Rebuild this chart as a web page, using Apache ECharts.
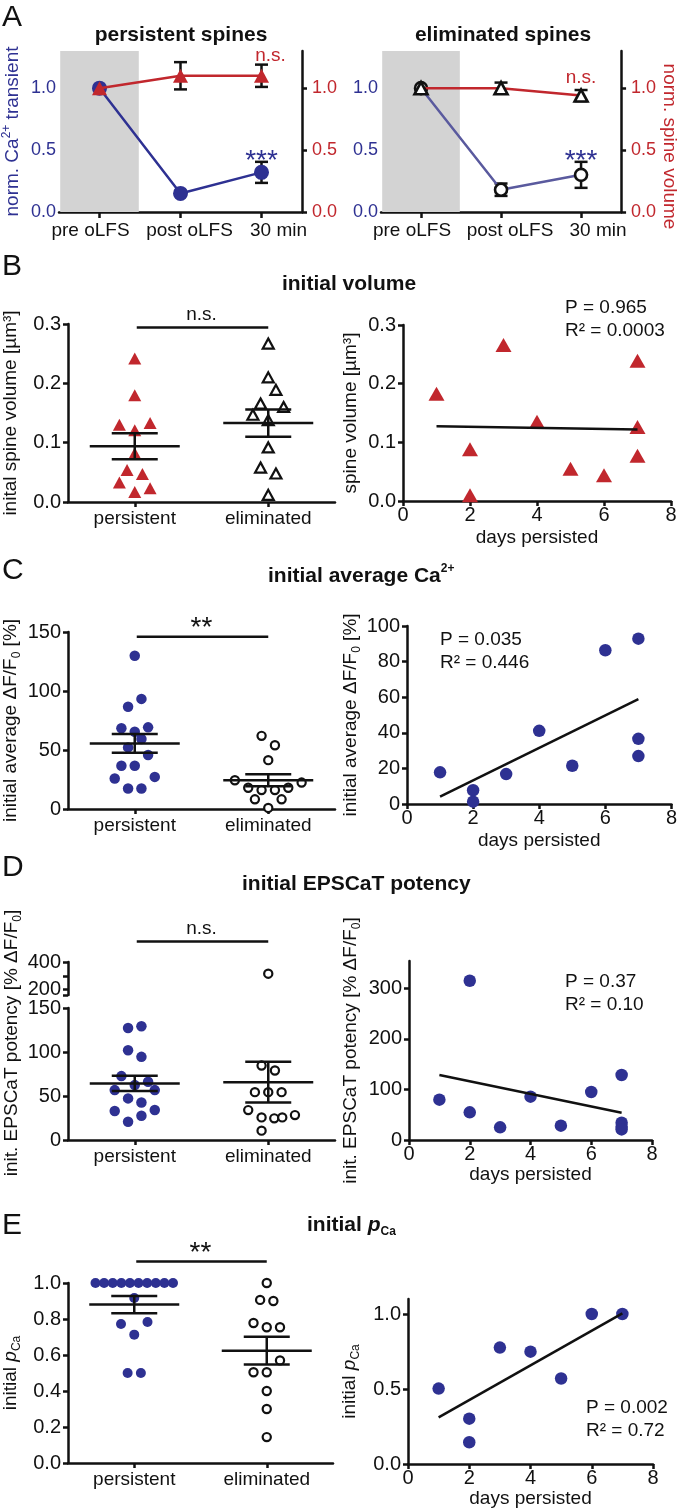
<!DOCTYPE html>
<html><head><meta charset="utf-8">
<script src="https://cdn.jsdelivr.net/npm/echarts@6/dist/echarts.min.js"></script>
<style>html,body{margin:0;padding:0;background:#fff}#c{width:680px;height:1511px}</style>
</head><body><div id="c"></div><script>
// ================= DATA =================
// Panel A
const timeCats = ['pre oLFS', 'post oLFS', '30 min'];
const aTicks = [0, 0.5, 1.0];
const persCaMean = [1.0, 0.15, 0.32];
const persCaSem = [0, 0.02, 0.085];
const persVolMean = [1.0, 1.10, 1.10];
const persVolSem = [0, 0.11, 0.09];
const elimCaMean = [1.0, 0.18, 0.30];
const elimCaSem = [0, 0.05, 0.105];
const elimVolMean = [1.0, 1.0, 0.94];
const elimVolSem = [0, 0.045, 0.045];
const persSigText = ['n.s.', '***'];
const persSigY = [1.242, 0.46];
const elimSigText = ['n.s.', '***'];
const elimSigY = [1.065, 0.46];

// Groups for B-E left panels
const groups = ['persistent', 'eliminated'];
const daysTicks = [0, 2, 4, 6, 8];

// Panel B
const volPers = [0.242, 0.18, 0.13, 0.133, 0.121, 0.082, 0.054, 0.047, 0.033, 0.023, 0.017];
const volPersSlot = [0, 0, -2, 2, 0, 0, -1, 1, -2, 2, 0];
const volElim = [0.267, 0.21, 0.189, 0.166, 0.16, 0.147, 0.138, 0.092, 0.058, 0.048, 0.012];
const volElimSlot = [0, 0, 1, -1, 2, -2, 0, 0, -1, 1, 0];
const volMean = [0.094, 0.133];
const volSem = [0.022, 0.023];
const volSig = 'n.s.';
const volSigY = 0.294;
const volDays = [1, 2, 2, 3, 4, 5, 6, 7, 7, 7];
const volByDays = [0.183, 0.088, 0.010, 0.266, 0.135, 0.055, 0.044, 0.239, 0.126, 0.077];
const volFitX = [1, 7];
const volFitY = [0.1275, 0.1218];
const volStat = ['P = 0.965', 'R² = 0.0003'];

// Panel C
const caPers = [129.8, 93.3, 86.7, 68.4, 69.2, 65.5, 59.3, 52.2, 45.7, 36.6, 36.6, 25.8, 27.2, 17.3, 17.3];
const caPersSlot = [0, 1, -1, -2, 2, 0, 1, -1, 2, -2, 0, -3, 3, -1, 1];
const caElim = [62, 54, 41.4, 24.4, 22.4, 18, 16, 16, 18, 8.2, 8.2, 0.9];
const caElimSlot = [-1, 1, 0, -5, 5, -3, -1, 1, 3, -2, 2, 0];
const caMean = [55.6, 24.4];
const caSem = [8.0, 5.1];
const caSig = '**';
const caSigY = 146;
const caDays = [1, 2, 2, 3, 4, 5, 6, 7, 7, 7];
const caByDays = [17.8, 7.7, 1.3, 16.8, 41.1, 21.5, 86.4, 92.9, 36.6, 26.9];
const caFitX = [1, 7];
const caFitY = [4.1, 58.9];
const caStat = ['P = 0.035', 'R² = 0.446'];

// Panel D
const potPers = [127.3, 129.2, 102, 94.5, 72.6, 66.1, 62.4, 56.7, 56.7, 47.3, 42.7, 32.9, 34, 27.6, 20.8];
const potPersSlot = [-1, 1, -1, 1, -2, 2, 0, -3, 3, -1, 1, -3, 3, 1, -1];
const potElim = [315, 84.6, 79, 54.4, 54.4, 54.4, 34, 25.7, 24.6, 25.7, 28.3, 10.6];
const potElimSlot = [0, -1, 1, -2, 0, 2, -3, -1, 0.9, 2.1, 4, -1];
const potMean = [64.3, 65.7];
const potSem = [8.6, 23.2];
const potSig = 'n.s.';
const potSigY = 550;
const potLowTicks = [0, 50, 100, 150];
const potHighTicks = [160, 200, 300, 400];
const potHighLabels = [200, 400];
const potDays = [1, 2, 2, 3, 4, 5, 6, 7, 7, 7, 7];
const potByDays = [79.8, 315, 54.7, 25, 85.7, 28.3, 95, 128.5, 34.3, 26.4, 21];
const potFitX = [1, 7];
const potFitY = [128.5, 54];
const potStat = ['P = 0.37', 'R² = 0.10'];

// Panel E
const pcaPers = [1, 1, 1, 1, 1, 1, 1, 1, 1, 1, 0.917, 0.772, 0.783, 0.713, 0.5, 0.5];
const pcaPersSlot = [-5.85, -4.55, -3.25, -1.95, -0.65, 0.65, 1.95, 3.25, 4.55, 5.85, 0, -2, 2, 0, -1, 1];
const pcaElim = [1.0, 0.906, 0.9, 0.778, 0.754, 0.754, 0.57, 0.504, 0.504, 0.4, 0.3, 0.144];
const pcaElimSlot = [0, -1, 1, -2, 0, 2, 2, -2, 0, 0, 0, 0];
const pcaMean = [0.88, 0.624];
const pcaSem = [0.048, 0.077];
const pcaSig = '**';
const pcaSigY = 1.12;
const pcaDays = [1, 2, 2, 3, 4, 5, 6, 7];
const pcaByDays = [0.503, 0.302, 0.145, 0.776, 0.749, 0.57, 1.0, 1.0];
const pcaFitX = [1, 7];
const pcaFitY = [0.311, 1.004];
const pcaStat = ['P = 0.002', 'R² = 0.72'];

// ================= STYLE / BUILD =================
const FONT = '"Liberation Sans", Arial, Helvetica, sans-serif';
const BLUE = '#2e3192', RED = '#c1272d', INK = '#111111', LINEBLUE = '#5a5a9e';
const FS = 19;      // general text
const FST = 20;     // y tick labels (panels B-E)
const RICH = {
  n: {fontFamily: FONT, fontSize: FS, lineHeight: 24, verticalAlign: 'middle'},
  i: {fontFamily: FONT, fontSize: FS, lineHeight: 24, verticalAlign: 'middle', fontStyle: 'italic'},
  sub: {fontFamily: FONT, fontSize: 12, lineHeight: 12, verticalAlign: 'bottom'},
  sup: {fontFamily: FONT, fontSize: 12, lineHeight: 12, verticalAlign: 'top'},
  shift: {fontFamily: FONT, fontSize: FS, lineHeight: 24, verticalAlign: 'middle', padding: [0, 0, 0, 30]}
};
const grid = [], xAxis = [], yAxis = [], series = [], graphic = [];
const f1 = v => v.toFixed(1);
const f0 = v => String(v);

function addGrid(r) { grid.push(Object.assign({containLabel: false}, r)); return grid.length - 1; }

function yAx(gi, o) {
  const ax = {
    gridIndex: gi, type: 'value', min: o.min, max: o.max, position: o.pos || 'left',
    splitLine: {show: false},
    axisLine: {show: o.line !== false, onZero: false, lineStyle: {color: INK, width: 2.5}},
    axisTick: {show: o.line !== false, customValues: o.ticks, length: 5, lineStyle: {color: INK, width: 2.5}},
    axisLabel: {show: o.labels !== null, customValues: o.labels || o.ticks, formatter: o.fmt,
      color: o.labelColor || INK, fontSize: o.fs || FST, fontFamily: FONT, margin: o.margin != null ? o.margin : 7}
  };
  if (o.name) {
    ax.name = o.name; ax.nameLocation = 'middle'; ax.nameGap = o.nameGap;
    ax.nameRotate = o.nameRotate != null ? o.nameRotate : 90;
    ax.nameTextStyle = {color: o.nameColor || INK, fontFamily: FONT, fontSize: FS, rich: RICH};
  }
  yAxis.push(ax); return yAxis.length - 1;
}

function xVal(gi, o) {
  const ax = {
    gridIndex: gi, type: 'value', min: o.min, max: o.max, show: o.show !== false,
    splitLine: {show: false},
    axisLine: {show: true, onZero: false, lineStyle: {color: INK, width: 2.5}},
    axisTick: {show: true, customValues: o.ticks, length: 5, lineStyle: {color: INK, width: 2.5}},
    axisLabel: {customValues: o.ticks, formatter: o.fmt, color: INK, fontSize: o.fs || FS, fontFamily: FONT, margin: o.margin != null ? o.margin : 5}
  };
  if (o.name) {
    ax.name = o.name; ax.nameLocation = 'middle'; ax.nameGap = o.nameGap;
    ax.nameTextStyle = {color: INK, fontFamily: FONT, fontSize: FS};
  }
  xAxis.push(ax); return xAxis.length - 1;
}

function errSeries(xi, yi, mean, sem, z) {
  return {
    type: 'custom', xAxisIndex: xi, yAxisIndex: yi, z: z, silent: true, clip: false,
    data: mean.map((m, i) => [i, m, sem[i]]), encode: {x: 0, y: 1},
    renderItem(params, api) {
      const x = api.value(0), m = api.value(1), s = api.value(2);
      if (!s) return null;
      const t = api.coord([x, m + s]), b = api.coord([x, m - s]);
      const cw = 6.5, st = {stroke: INK, lineWidth: 2.5};
      return {type: 'group', children: [
        {type: 'line', shape: {x1: t[0], y1: t[1], x2: b[0], y2: b[1]}, style: st},
        {type: 'line', shape: {x1: t[0] - cw, y1: t[1], x2: t[0] + cw, y2: t[1]}, style: st},
        {type: 'line', shape: {x1: b[0] - cw, y1: b[1], x2: b[0] + cw, y2: b[1]}, style: st}
      ]};
    }
  };
}

function starDy(t) { return t.indexOf('*') >= 0 ? 6 : -2; }
function starSize(t) { return t.indexOf('*') >= 0 ? 28 : FS; }

// per-category label shift (the reference centres its time labels slightly off the ticks)
const A_LABEL_RICH = {
  c0: {fontFamily: FONT, fontSize: FS, color: INK, padding: [0, 18, 0, 0]},
  c1: {fontFamily: FONT, fontSize: FS, color: INK, padding: [0, 0, 0, 18]},
  c2: {fontFamily: FONT, fontSize: FS, color: INK, padding: [0, 0, 0, 34]}
};

function panelA(rect, caM, caS, volM, volS, sigT, sigY, filled, leftName, rightName) {
  const gi = addGrid(rect);
  xAxis.push({
    gridIndex: gi, type: 'category', data: timeCats, boundaryGap: true,
    axisLine: {show: true, onZero: false, lineStyle: {color: INK, width: 2.5}},
    axisTick: {show: true, alignWithLabel: true, length: 6, lineStyle: {color: INK, width: 2.5}},
    axisLabel: {color: INK, fontSize: FS, fontFamily: FONT, margin: 9, interval: 0,
      formatter: (v, i) => '{c' + i + '|' + v + '}', rich: A_LABEL_RICH}
  });
  const xi = xAxis.length - 1;
  const yl = yAx(gi, {min: 0, max: 1.3, ticks: aTicks, fmt: f1, line: false, labelColor: BLUE, margin: 3, fs: 18,
    name: leftName, nameGap: 34, nameColor: BLUE});
  const yr = yAx(gi, {min: 0, max: 1.3, ticks: aTicks, fmt: f1, pos: 'right', labelColor: RED, margin: 10, fs: 18,
    name: rightName, nameGap: 36, nameColor: RED, nameRotate: -90});
  series.push({type: 'bar', xAxisIndex: xi, yAxisIndex: yl, silent: true, z: 0,
    data: timeCats.map((c, i) => i === 0 ? 1.3 : '-'), barWidth: '97%', itemStyle: {color: '#d3d3d3'}});
  series.push(errSeries(xi, yl, caM, caS, 3));
  series.push(errSeries(xi, yr, volM, volS, 3));
  series.push({type: 'line', xAxisIndex: xi, yAxisIndex: yl, data: caM, z: 4, symbol: 'circle',
    symbolSize: filled ? 15 : 12, showSymbol: true, silent: true,
    lineStyle: {color: filled ? BLUE : LINEBLUE, width: 2.5},
    itemStyle: filled ? {color: BLUE, opacity: 1} : {color: '#fff', borderColor: INK, borderWidth: 2.6, opacity: 1}});
  series.push({type: 'line', xAxisIndex: xi, yAxisIndex: yr, data: volM, z: 5, symbol: 'triangle',
    symbolSize: filled ? [15, 14] : [13, 12], showSymbol: true, silent: true,
    lineStyle: {color: RED, width: 2.5},
    itemStyle: filled ? {color: RED, opacity: 1} : {color: '#fff', borderColor: INK, borderWidth: 2.6, opacity: 1}});
  // significance labels: first belongs to volume (red), second to Ca (blue)
  series.push({type: 'custom', xAxisIndex: xi, yAxisIndex: yl, z: 6, silent: true, clip: false,
    data: sigT.map((t, i) => [timeCats.length - 1, sigY[i], i]), encode: {x: 0, y: 1},
    renderItem(params, api) {
      const k = api.value(2), t = sigT[k];
      const p = api.coord([api.value(0), api.value(1)]);
      return {type: 'text', x: p[0] + (filled && k === 0 ? 9 : 0), y: p[1] + starDy(t), style: {text: t, fill: k === 0 ? RED : BLUE,
        font: (starSize(t)) + 'px ' + FONT, align: 'center', verticalAlign: 'middle'}};
    }});
}

function statsSeries(xi, yi, mean, sem) {
  return {type: 'custom', xAxisIndex: xi, yAxisIndex: yi, z: 6, silent: true, clip: false,
    data: mean.map((m, i) => [i + 1, m, sem[i]]), encode: {x: 0, y: 1},
    renderItem(params, api) {
      const x = api.value(0), m = api.value(1), s = api.value(2);
      const c = api.coord([x, m]), t = api.coord([x, m + s]), b = api.coord([x, m - s]);
      const st = {stroke: INK, lineWidth: 2.5};
      return {type: 'group', children: [
        {type: 'line', shape: {x1: c[0] - 45, y1: c[1], x2: c[0] + 45, y2: c[1]}, style: st},
        {type: 'line', shape: {x1: t[0] - 23, y1: t[1], x2: t[0] + 23, y2: t[1]}, style: st},
        {type: 'line', shape: {x1: b[0] - 23, y1: b[1], x2: b[0] + 23, y2: b[1]}, style: st},
        {type: 'line', shape: {x1: t[0], y1: t[1], x2: b[0], y2: b[1]}, style: st}
      ]};
    }};
}

function sigSeries(xi, yi, text, y) {
  return {type: 'custom', xAxisIndex: xi, yAxisIndex: yi, z: 6, silent: true, clip: false,
    data: [[1, y]], encode: {x: 0, y: 1},
    renderItem(params, api) {
      const a = api.coord([1, api.value(1)]), b = api.coord([2, api.value(1)]);
      const isStar = text.indexOf('*') >= 0;
      return {type: 'group', children: [
        {type: 'line', shape: {x1: a[0] + 2, y1: a[1], x2: b[0], y2: b[1]}, style: {stroke: INK, lineWidth: 2.5}},
        {type: 'text', x: (a[0] + b[0]) / 2, y: a[1] - (isStar ? 8 : 13),
          style: {text: text, fill: INK, font: (isStar ? 28 : FS) + 'px ' + FONT, align: 'center', verticalAlign: 'middle'}}
      ]};
    }};
}

function groupScatter(xi, yi, vals, slots, slotW, gIdx, sym) {
  return {type: 'scatter', xAxisIndex: xi, yAxisIndex: yi, z: 4, silent: true,
    data: vals.map((v, i) => [gIdx + slots[i] * slotW, v]),
    symbol: sym.symbol, symbolSize: sym.size, itemStyle: sym.style};
}

function groupXAxis(gi, show) {
  return xVal(gi, {min: 0.5, max: 2.5, ticks: [1, 2], fmt: v => groups[Math.round(v) - 1], margin: 7, show: show});
}

const FILLTRI = {symbol: 'triangle', size: [13, 12], style: {color: RED, opacity: 1}};
const OPENTRI = {symbol: 'triangle', size: [11, 10], style: {color: '#fff', borderColor: INK, borderWidth: 2.2, opacity: 1}};
const FILLDOT = {symbol: 'circle', size: 10.5, style: {color: BLUE, opacity: 1}};
const OPENDOT = {symbol: 'circle', size: 8.2, style: {color: '#fff', borderColor: INK, borderWidth: 2.2, opacity: 1}};
const BIGDOT = {symbol: 'circle', size: 12.5, style: {color: BLUE, opacity: 1}};
const BIGTRI = {symbol: 'triangle', size: [16, 14], style: {color: RED, opacity: 1}};

function regPanel(rect, y, xs, ys, fitX, fitY, sym, xNameGap) {
  const gi = addGrid(rect);
  const xi = xVal(gi, {min: 0, max: 8, ticks: daysTicks, fmt: f0, name: 'days persisted', nameGap: xNameGap, margin: 4, fs: FST});
  const yi = yAx(gi, y);
  series.push({type: 'scatter', xAxisIndex: xi, yAxisIndex: yi, z: 4, silent: true,
    data: xs.map((d, i) => [d, ys[i]]), symbol: sym.symbol, symbolSize: sym.size, itemStyle: sym.style});
  series.push({type: 'line', xAxisIndex: xi, yAxisIndex: yi, z: 5, silent: true, symbol: 'none',
    data: fitX.map((d, i) => [d, fitY[i]]), lineStyle: {color: INK, width: 2.5}});
}

function statText(x, y, lines) {
  graphic.push({type: 'text', x: x, y: y, silent: true,
    style: {text: lines.join('\n'), fill: INK, font: FS + 'px ' + FONT, lineHeight: 22.5, align: 'left', verticalAlign: 'top'}});
}

function label(x, y, t) {
  graphic.push({type: 'text', x: x, y: y, silent: true,
    style: {text: t, fill: INK, font: '30px ' + FONT, align: 'left', verticalAlign: 'middle'}});
}
const TS = 21;
function title(x, y, t, align) {
  graphic.push({type: 'text', x: x, y: y, silent: true,
    style: {text: t, fill: INK, font: 'bold ' + TS + 'px ' + FONT, align: align || 'center', verticalAlign: 'middle',
      rich: {b: {fontFamily: FONT, fontSize: TS, fontWeight: 'bold', lineHeight: 26, verticalAlign: 'middle'},
             bi: {fontFamily: FONT, fontSize: TS, fontWeight: 'bold', fontStyle: 'italic', lineHeight: 26, verticalAlign: 'middle'},
             sup: {fontFamily: FONT, fontSize: 12, fontWeight: 'bold', lineHeight: 12, verticalAlign: 'top'},
             sub: {fontFamily: FONT, fontSize: 12, fontWeight: 'bold', lineHeight: 12, verticalAlign: 'bottom'}}}});
}

// ---------- Panel A ----------
panelA({left: 59, top: 51, width: 243, height: 161}, persCaMean, persCaSem, persVolMean, persVolSem,
  persSigText, persSigY, true, '{n|norm. Ca}{sup|2+}{n| transient}', null);
panelA({left: 381, top: 51, width: 242, height: 161}, elimCaMean, elimCaSem, elimVolMean, elimVolSem,
  elimSigText, elimSigY, false, null, '{shift|norm. spine volume}');

// ---------- Panel B ----------
(function () {
  const gi = addGrid({left: 68, top: 324, width: 267, height: 178});
  const xi = groupXAxis(gi);
  const yi = yAx(gi, {min: 0, max: 0.3, ticks: [0, 0.1, 0.2, 0.3], fmt: f1,
    name: '{n|inital spine volume [µm³]}', nameGap: 45});
  series.push(groupScatter(xi, yi, volPers, volPersSlot, 0.0575, 1, FILLTRI));
  series.push(groupScatter(xi, yi, volElim, volElimSlot, 0.0575, 2, OPENTRI));
  series.push(statsSeries(xi, yi, volMean, volSem));
  series.push(sigSeries(xi, yi, volSig, volSigY));
})();
regPanel({left: 403, top: 325, width: 268, height: 176},
  {min: 0, max: 0.3, ticks: [0, 0.1, 0.2, 0.3], fmt: f1, name: '{n|spine volume [µm³]}', nameGap: 40},
  volDays, volByDays, volFitX, volFitY, BIGTRI, 27);

// ---------- Panel C ----------
(function () {
  const gi = addGrid({left: 68, top: 632, width: 267, height: 177});
  const xi = groupXAxis(gi);
  const yi = yAx(gi, {min: 0, max: 150, ticks: [0, 50, 100, 150], fmt: f0,
    name: '{n|initial average ΔF/F}{sub|0}{n| [%]}', nameGap: 45});
  series.push(groupScatter(xi, yi, caPers, caPersSlot, 0.05, 1, FILLDOT));
  series.push(groupScatter(xi, yi, caElim, caElimSlot, 0.05, 2, OPENDOT));
  series.push(statsSeries(xi, yi, caMean, caSem));
  series.push(sigSeries(xi, yi, caSig, caSigY));
})();
regPanel({left: 407, top: 626, width: 266, height: 178},
  {min: 0, max: 100, ticks: [0, 20, 40, 60, 80, 100], fmt: f0, name: '{n|initial average ΔF/F}{sub|0}{n| [%]}', nameGap: 42},
  caDays, caByDays, caFitX, caFitY, BIGDOT, 27);

// ---------- Panel D (broken axis) ----------
(function () {
  const gU = addGrid({left: 68, top: 962, width: 267, height: 33});
  const gL = addGrid({left: 68, top: 1008, width: 267, height: 132});
  const xU = groupXAxis(gU, false);
  const yU = yAx(gU, {min: 160, max: 400, ticks: potHighTicks, labels: potHighLabels, fmt: f0});
  const xL = groupXAxis(gL);
  const yL = yAx(gL, {min: 0, max: 150, ticks: potLowTicks, fmt: f0});
  const hiE = potElim.map((v, i) => v >= 160 ? i : -1).filter(i => i >= 0);
  const loE = potElim.map((v, i) => v < 160 ? i : -1).filter(i => i >= 0);
  series.push(groupScatter(xL, yL, potPers, potPersSlot, 0.05, 1, FILLDOT));
  series.push(groupScatter(xL, yL, loE.map(i => potElim[i]), loE.map(i => potElimSlot[i]), 0.05, 2, OPENDOT));
  series.push(groupScatter(xU, yU, hiE.map(i => potElim[i]), hiE.map(i => potElimSlot[i]), 0.05, 2, OPENDOT));
  series.push(statsSeries(xL, yL, potMean, potSem));
  series.push(sigSeries(xU, yU, potSig, potSigY));
  graphic.push({type: 'text', x: 12, y: 1043, rotation: Math.PI / 2, silent: true,
    style: {text: '{n|init. EPSCaT potency [% ΔF/F}{sub|0}{n|]}', fill: INK, font: FS + 'px ' + FONT,
      align: 'center', verticalAlign: 'middle', rich: RICH}});
})();
regPanel({left: 409, top: 961, width: 243, height: 179},
  {min: 0, max: 354, ticks: [0, 100, 200, 300], fmt: f0, name: '{n|init. EPSCaT potency [% ΔF/F}{sub|0}{n|]}', nameGap: 46},
  potDays, potByDays, potFitX, potFitY, BIGDOT, 24);

// ---------- Panel E ----------
(function () {
  const gi = addGrid({left: 68, top: 1283, width: 265, height: 180});
  const xi = groupXAxis(gi);
  const yi = yAx(gi, {min: 0, max: 1, ticks: [0, 0.2, 0.4, 0.6, 0.8, 1.0], fmt: f1,
    name: '{n|initial }{i|p}{sub|Ca}', nameGap: 45});
  series.push(groupScatter(xi, yi, pcaPers, pcaPersSlot, 0.05, 1, {symbol: 'circle', size: 10, style: {color: BLUE, opacity: 1}}));
  series.push(groupScatter(xi, yi, pcaElim, pcaElimSlot, 0.05, 2, OPENDOT));
  series.push(statsSeries(xi, yi, pcaMean, pcaSem));
  series.push(sigSeries(xi, yi, pcaSig, pcaSigY));
})();
regPanel({left: 408, top: 1299, width: 245, height: 165},
  {min: 0, max: 1.1, ticks: [0, 0.5, 1.0], fmt: f1, name: '{n|initial }{i|p}{sub|Ca}', nameGap: 46},
  pcaDays, pcaByDays, pcaFitX, pcaFitY, BIGDOT, 22);

// ---------- Stats texts ----------
statText(565, 297, volStat);
statText(440, 629, caStat);
statText(565, 971, potStat);
statText(586, 1397, pcaStat);

// ---------- Panel letters & titles ----------
label(2, 18, 'A'); label(2, 267, 'B'); label(2, 571, 'C'); label(2, 868, 'D'); label(2, 1226, 'E');
title(181, 35, '{b|persistent spines}');
title(503, 35, '{b|eliminated spines}');
title(349, 284, '{b|initial volume}');
title(268, 576, '{b|initial average Ca}{sup|2+}', 'left');
title(242, 884, '{b|initial EPSCaT potency}', 'left');
title(307, 1225, '{b|initial }{bi|p}{sub|Ca}', 'left');

const chart = echarts.init(document.getElementById('c'), null, {renderer: 'canvas', width: 680, height: 1511});
chart.setOption({animation: false, backgroundColor: '#fff', textStyle: {fontFamily: FONT},
  grid: grid, xAxis: xAxis, yAxis: yAxis, series: series, graphic: graphic});
</script></body></html>
